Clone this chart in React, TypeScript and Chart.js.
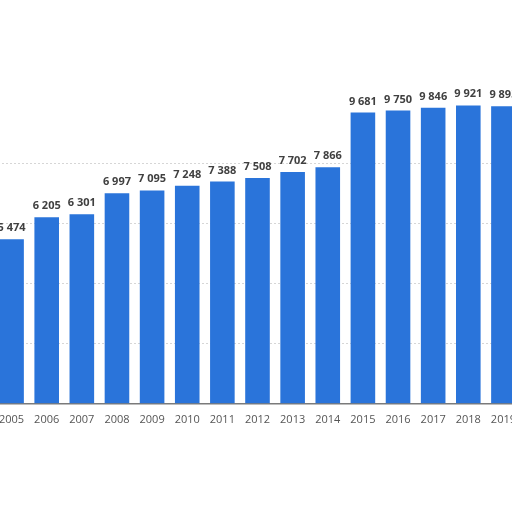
import { useEffect, useRef } from 'react'
import { Chart, registerables } from 'chart.js'

Chart.register(...registerables)

const years = ['2005', '2006', '2007', '2008', '2009', '2010', '2011', '2012', '2013', '2014', '2015', '2016', '2017', '2018', '2019']
const values = [5474, 6205, 6301, 6997, 7095, 7248, 7388, 7508, 7702, 7866, 9681, 9750, 9846, 9921, 9893]
const gridTicks = [0, 2000, 4000, 6000, 8000, 10000]

const fmt = (n: number) => String(n).replace(/\B(?=(\d{3})+(?!\d))/g, ' ')

// value labels above each bar
const valueLabels = {
  id: 'valueLabels',
  afterDatasetsDraw(chart: any) {
    const ctx = chart.ctx
    const meta = chart.getDatasetMeta(0)
    ctx.save()
    ctx.font = 'bold 11px "Open Sans", sans-serif'
    ctx.fillStyle = '#404040'
    ctx.textAlign = 'center'
    ctx.textBaseline = 'alphabetic'
    meta.data.forEach((bar: any, i: number) => {
      ctx.fillText(fmt(values[i]), bar.x, bar.y - 8)
    })
    ctx.restore()
  },
}

export default function App() {
  const chartRef = useRef<HTMLCanvasElement>(null)
  const chartInstance = useRef<Chart | null>(null)

  useEffect(() => {
    if (!chartRef.current) return
    if (chartInstance.current) chartInstance.current.destroy()

    chartInstance.current = new Chart(chartRef.current, {
      type: 'bar',
      data: {
        labels: years,
        datasets: [
          {
            data: values,
            backgroundColor: '#2a74da',
            categoryPercentage: 1,
            barPercentage: 0.7,
          },
        ],
      },
      options: {
        animation: false,
        responsive: true,
        maintainAspectRatio: false,
        layout: { padding: { top: 103, left: 0, right: 0, bottom: 0 } },
        plugins: { legend: { display: false }, tooltip: { enabled: false } },
        scales: {
          x: {
            // invisible tick marks give the label gap without side padding
            grid: { display: true, drawOnChartArea: false, drawTicks: true, tickLength: 9, color: 'transparent' },
            border: { display: true, color: '#7a7a7a', width: 1.5 },
            ticks: {
              color: '#555',
              padding: 0,
              font: { family: '"Open Sans", sans-serif', size: 11 },
              maxRotation: 0,
              autoSkip: false,
            },
          },
          y: {
            display: true,
            min: 0,
            max: 10000,
            afterBuildTicks: (axis: any) => {
              axis.ticks = gridTicks.map((v) => ({ value: v }))
            },
            afterFit: (axis: any) => {
              axis.width = 0
            },
            ticks: { display: false },
            border: { display: false, dash: [2, 2] },
            grid: {
              drawTicks: false,
              color: (c: any) => (c.tick && c.tick.value > 0 && c.tick.value < 10000 ? '#d6d6d6' : 'transparent'),
              lineWidth: 1,
            },
          },
        },
      },
      plugins: [valueLabels],
    } as any)

    return () => {
      if (chartInstance.current) {
        chartInstance.current.destroy()
        chartInstance.current = null
      }
    }
  }, [])

  return (
    <div style={{ position: 'fixed', left: 0, top: 0, width: 512, height: 512, overflow: 'hidden', background: '#fff' }}>
      <div style={{ position: 'absolute', left: -6, top: 0, width: 527, height: 426 }}>
        <canvas ref={chartRef} />
      </div>
    </div>
  )
}
